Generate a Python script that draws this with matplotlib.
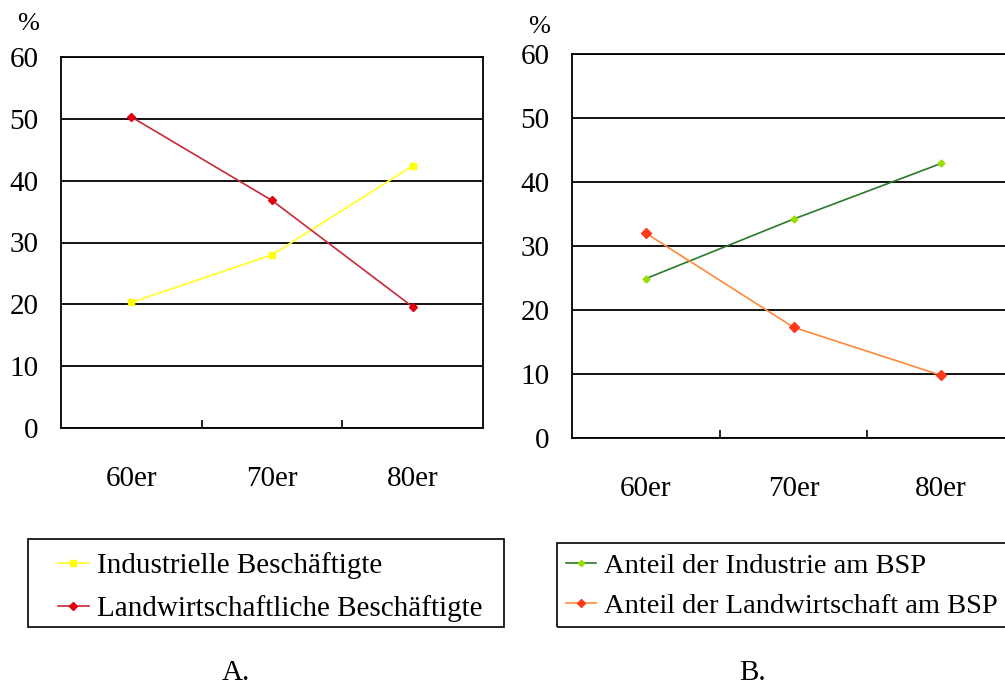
import numpy as np
import matplotlib
matplotlib.use("Agg")
import matplotlib.pyplot as plt
from matplotlib.patches import Rectangle

plt.rcParams['font.family'] = ['Liberation Serif', 'DejaVu Serif']

# data
decades = ["60er", "70er", "80er"]
industry_jobs = [20.3, 28.0, 42.4]
farm_jobs = [50.3, 36.8, 19.6]
industry_gnp = [24.9, 34.2, 42.9]
farm_gnp = [32.0, 17.3, 9.8]
yticks = [0, 10, 20, 30, 40, 50, 60]

fig = plt.figure(figsize=(10.05, 6.86), dpi=100)

W, H = 1005.0, 686.0
def box(x0, y0, x1, y1):
    # pixel box (top-left origin) -> figure fraction rect
    return [x0 / W, 1 - y1 / H, (x1 - x0) / W, (y1 - y0) / H]

axA = fig.add_axes(box(61, 57, 483, 428))
axB = fig.add_axes(box(572, 54, 1015, 438))

x = np.arange(len(decades))

hA = []
hA += axA.plot(x, industry_jobs, color="#ffff33", lw=1.3, marker="s", ms=5,
               mfc="#ffff00", mec="#ffff00", label="Industrielle Beschäftigte")
hA += axA.plot(x, farm_jobs, color="#c8283a", lw=1.2, marker="D", ms=4,
               mfc="#e00010", mec="#e00010", label="Landwirtschaftliche Beschäftigte")

hB = []
hB += axB.plot(x, industry_gnp, color="#2a7a2a", lw=1.2, marker="D", ms=3.5,
               mfc="#99dd00", mec="#99dd00", label="Anteil der Industrie am BSP")
hB += axB.plot(x, farm_gnp, color="#ff8a3a", lw=1.2, marker="D", ms=5,
               mfc="#ff3a1a", mec="#ff3a1a", label="Anteil der Landwirtschaft am BSP")

for ax in (axA, axB):
    ax.set_xlim(-0.5, 2.5)
    ax.set_ylim(0, 60)
    ax.set_yticks(yticks)
    ax.yaxis.grid(True, color="black", lw=1.3)
    ax.set_axisbelow(True)
    ax.tick_params(axis="y", length=0, pad=16, labelsize=21)
    ax.set_xticks([0.5, 1.5])
    ax.set_xticklabels([])
    ax.tick_params(axis="x", which="major", direction="in", length=6, width=1.2)
    ax.set_xticks(x, minor=True)
    ax.set_xticklabels(decades, minor=True)
    ax.tick_params(axis="x", which="minor", length=0, pad=27, labelsize=21)
    for s in ax.spines.values():
        s.set_linewidth(1.3)
        s.set_color("black")

fig.text(28 / W, 1 - 24 / H, "%", ha="center", va="center", fontsize=19)
fig.text(539 / W, 1 - 27 / H, "%", ha="center", va="center", fontsize=19)

# legend boxes drawn by hand, legends placed inside them
fig.patches.append(Rectangle((28 / W, 1 - 627 / H), 476 / W, 88 / H,
                             transform=fig.transFigure, fill=False,
                             edgecolor="black", lw=1.2))
fig.patches.append(Rectangle((557 / W, 1 - 627 / H), 460 / W, 84 / H,
                             transform=fig.transFigure, fill=False,
                             edgecolor="black", lw=1.2))

legA = fig.legend(handles=hA, loc="upper left", bbox_to_anchor=(58 / W, 1 - 552 / H),
                  fontsize=21, frameon=False, handlelength=1.05, handletextpad=0.28,
                  borderaxespad=0, borderpad=0, labelspacing=0.55, markerscale=0.9)
legB = fig.legend(handles=hB, loc="upper left", bbox_to_anchor=(566 / W, 1 - 553 / H),
                  fontsize=20.5, frameon=False, handlelength=1.05, handletextpad=0.28,
                  borderaxespad=0, borderpad=0, labelspacing=0.5, markerscale=0.9)

fig.text(236 / W, 1 - 673 / H, "A.", ha="center", va="center", fontsize=21)
fig.text(753 / W, 1 - 673 / H, "B.", ha="center", va="center", fontsize=21)

fig.savefig("out.png", dpi=100)
